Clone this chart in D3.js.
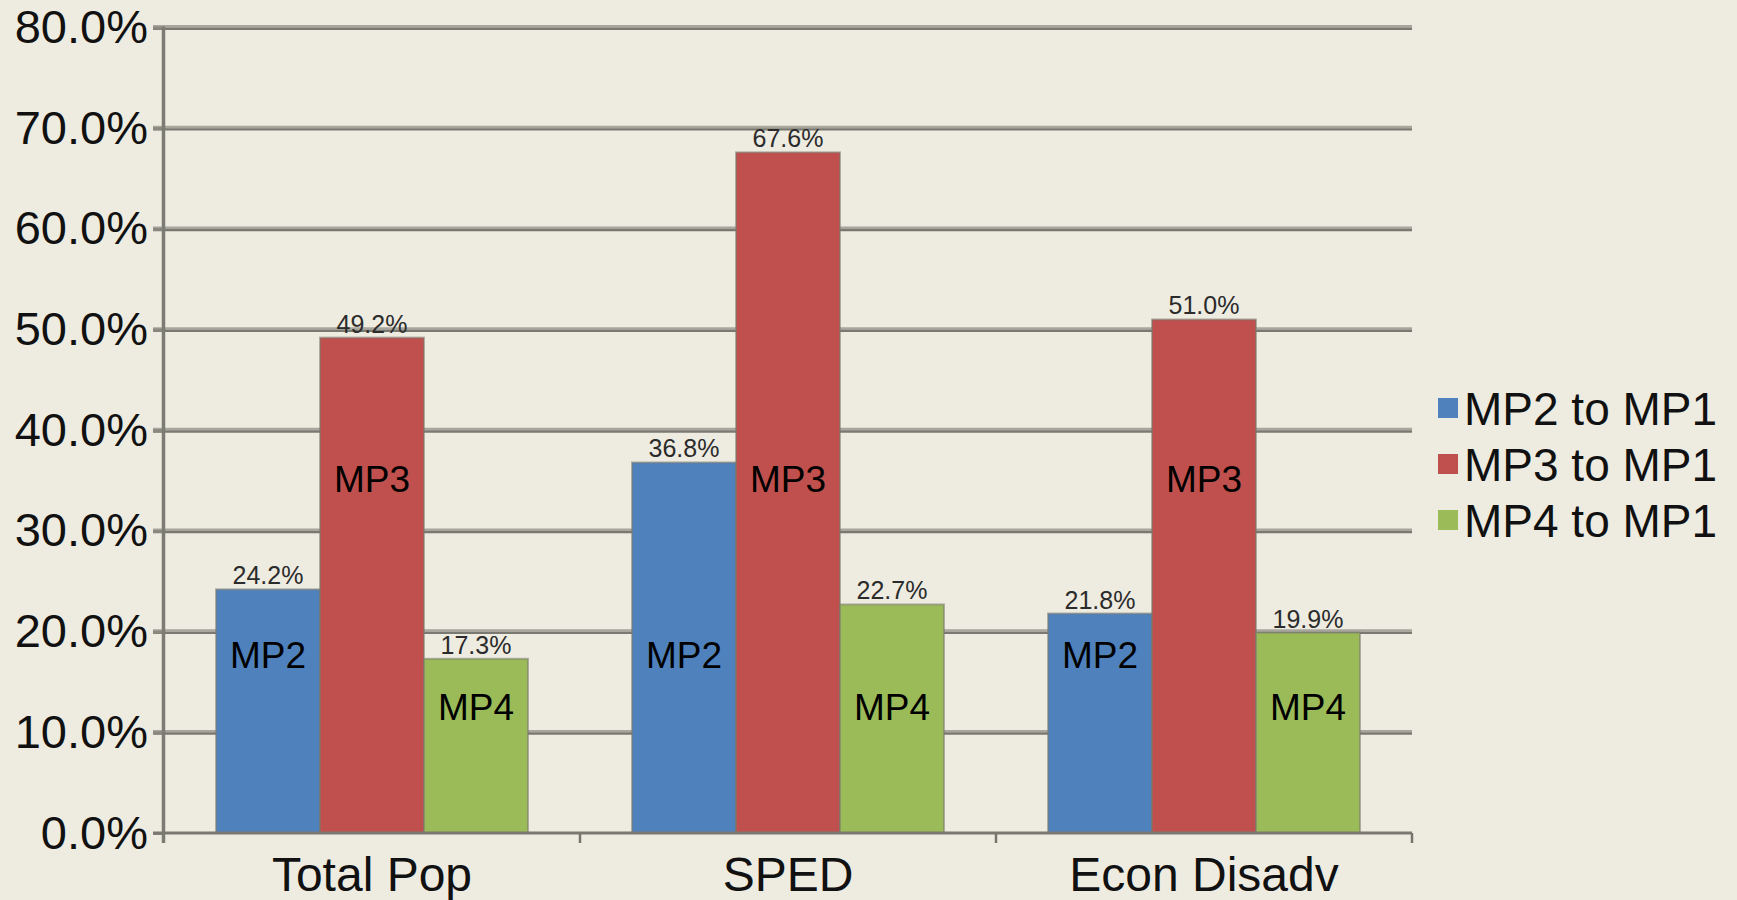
<!DOCTYPE html>
<html>
<head>
<meta charset="utf-8">
<script src="https://cdn.jsdelivr.net/npm/d3@7"></script>
<style>
  html, body { margin: 0; padding: 0; background: #eeece1; }
  svg { display: block; font-family: "Liberation Sans", Arial, sans-serif; }
</style>
</head>
<body>
<div id="chart"></div>
<script>
// data
const categories = ['Total Pop', 'SPED', 'Econ Disadv']
const seriesNames = ['MP2 to MP1', 'MP3 to MP1', 'MP4 to MP1']
const shortNames = ['MP2', 'MP3', 'MP4']
const mp2 = [24.2, 36.8, 21.8]
const mp3 = [49.2, 67.6, 51.0]
const mp4 = [17.3, 22.7, 19.9]
const yTicks = [0, 10, 20, 30, 40, 50, 60, 70, 80]
const colors = ['#4f81bd', '#c0504d', '#9bbb59']

const values = [mp2, mp3, mp4]
// the short names sit at the same height in every group (hand-placed text boxes)
const innerLabelAt = [16.4, 33.9, 11.2]

const W = 1737, H = 900
const plot = { left: 164, right: 1412, top: 27.5, bottom: 833 }

const svg = d3.select('#chart').append('svg')
    .attr('width', W)
    .attr('height', H)

svg.append('rect').attr('width', W).attr('height', H).attr('fill', '#eeece1')

const y = d3.scaleLinear().domain([0, 80]).range([plot.bottom, plot.top])
const x0 = d3.scaleBand().domain(categories).range([plot.left, plot.right])
const x1 = d3.scaleBand().domain(d3.range(seriesNames.length))
    .range([0, x0.bandwidth()]).paddingInner(0).paddingOuter(0.5)

// gridlines (two tone, like the original)
const grid = svg.append('g')
grid.selectAll('line.lite').data(yTicks.slice(1)).enter().append('line')
    .attr('x1', plot.left - 11).attr('x2', plot.right)
    .attr('y1', d => y(d) - 1.2).attr('y2', d => y(d) - 1.2)
    .attr('stroke', '#a8a69c').attr('stroke-width', 2.4)
grid.selectAll('line.dark').data(yTicks.slice(1)).enter().append('line')
    .attr('x1', plot.left - 11).attr('x2', plot.right)
    .attr('y1', d => y(d) + 1.2).attr('y2', d => y(d) + 1.2)
    .attr('stroke', '#7a7971').attr('stroke-width', 2.4)

// y axis
const yAxis = svg.append('g')
    .attr('transform', 'translate(' + plot.left + ',0)')
    .call(d3.axisLeft(y).tickValues(yTicks).tickSize(11).tickPadding(5)
        .tickFormat(d => d.toFixed(1) + '%'))
yAxis.select('.domain').remove()
yAxis.selectAll('.tick line').attr('stroke', '#8a897f').attr('stroke-width', 3)
yAxis.selectAll('.tick text')
    .attr('fill', '#111').attr('font-size', 47)
    .attr('font-family', '"Liberation Sans", Arial, sans-serif')
svg.append('line')
    .attr('x1', plot.left - 0.5).attr('x2', plot.left - 0.5)
    .attr('y1', plot.top - 1).attr('y2', plot.bottom + 10)
    .attr('stroke', '#7d7c74').attr('stroke-width', 3.5)

// bars
const groups = svg.append('g').selectAll('g')
    .data(categories).enter().append('g')
    .attr('transform', d => 'translate(' + x0(d) + ',0)')

const cells = groups.selectAll('g.cell')
    .data((c, ci) => values.map((vals, si) => ({ si, v: vals[ci] })))
    .enter().append('g').attr('class', 'cell')

cells.append('rect')
    .attr('x', d => x1(d.si))
    .attr('y', d => y(d.v))
    .attr('width', x1.bandwidth())
    .attr('height', d => y(0) - y(d.v))
    .attr('fill', d => colors[d.si])
    .attr('stroke', 'rgba(120,120,110,0.55)')
    .attr('stroke-width', 2)

// value labels above bars
cells.append('text')
    .attr('x', d => x1(d.si) + x1.bandwidth() / 2)
    .attr('y', d => y(d.v) - 5)
    .attr('text-anchor', 'middle')
    .attr('font-size', 25)
    .attr('fill', '#2b2b2b')
    .text(d => d.v.toFixed(1) + '%')

// short series names inside bars
cells.append('text')
    .attr('x', d => x1(d.si) + x1.bandwidth() / 2)
    .attr('y', d => y(innerLabelAt[d.si]))
    .attr('text-anchor', 'middle')
    .attr('font-size', 37)
    .attr('fill', '#000')
    .text(d => shortNames[d.si])

// x axis
svg.append('line')
    .attr('x1', plot.left - 11).attr('x2', plot.right)
    .attr('y1', plot.bottom).attr('y2', plot.bottom)
    .attr('stroke', '#7a7971').attr('stroke-width', 3)
const bounds = categories.map(c => x0(c) + x0.bandwidth()).slice(0, -1).concat([plot.right])
svg.selectAll('line.xt').data(bounds).enter().append('line')
    .attr('x1', d => d).attr('x2', d => d)
    .attr('y1', plot.bottom).attr('y2', plot.bottom + 10)
    .attr('stroke', '#77766e').attr('stroke-width', 2.5)
svg.selectAll('text.cat').data(categories).enter().append('text')
    .attr('x', d => x0(d) + x0.bandwidth() / 2)
    .attr('y', 891)
    .attr('text-anchor', 'middle')
    .attr('font-size', 48)
    .attr('fill', '#111')
    .text(d => d)

// legend
const legend = svg.append('g').attr('transform', 'translate(1438,408)')
const items = legend.selectAll('g').data(seriesNames).enter().append('g')
    .attr('transform', (d, i) => 'translate(0,' + i * 56 + ')')
items.append('rect')
    .attr('x', 0).attr('y', -10).attr('width', 20).attr('height', 20)
    .attr('fill', (d, i) => colors[i])
items.append('text')
    .attr('x', 26).attr('y', 17)
    .attr('font-size', 46)
    .attr('fill', '#111')
    .text(d => d)
</script>
</body>
</html>
